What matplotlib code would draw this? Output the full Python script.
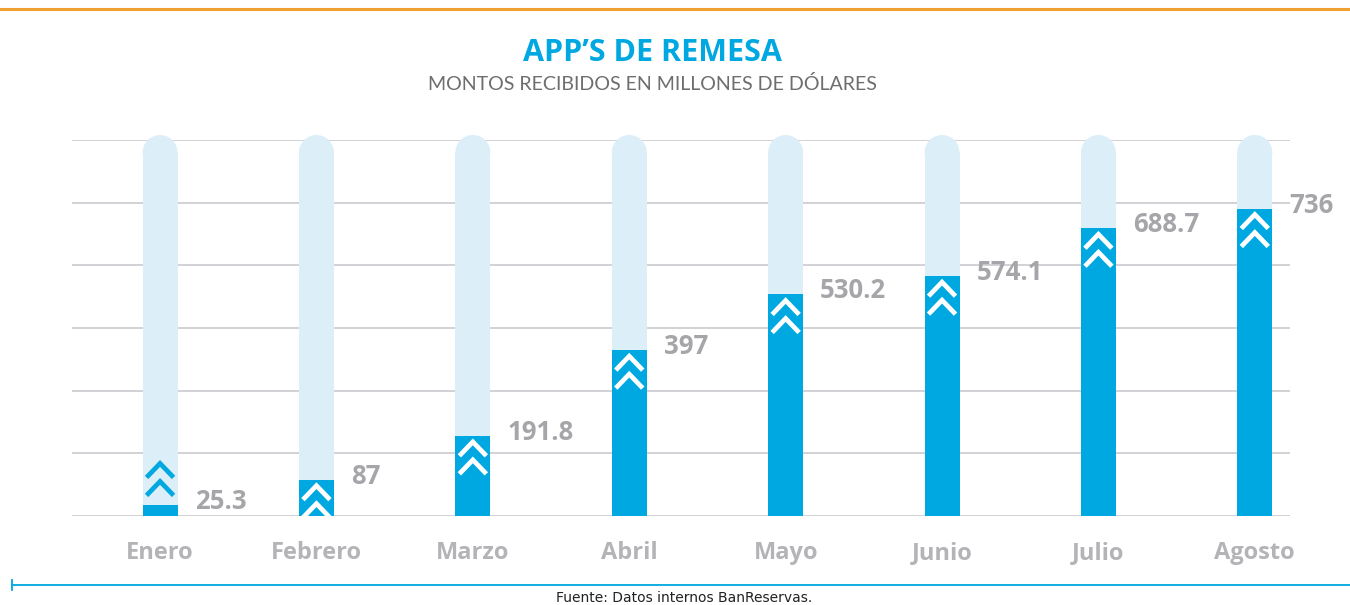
import matplotlib
matplotlib.use("Agg")
import matplotlib.pyplot as plt
from matplotlib.patches import Rectangle, Ellipse
from matplotlib.lines import Line2D

# Data
months = ["Enero", "Febrero", "Marzo", "Abril", "Mayo", "Junio", "Julio", "Agosto"]
amounts = [25.3, 87, 191.8, 397, 530.2, 574.1, 688.7, 736]
value_labels = ["25.3", "87", "191.8", "397", "530.2", "574.1", "688.7", "736"]
grid_values = [0, 150, 300, 450, 600, 750, 900]

title = "APP\u2019S DE REMESA"
subtitle = "MONTOS RECIBIDOS EN MILLONES DE DÓLARES"
source = "Fuente: Datos internos BanReservas."

# Colours
BLUE = "#00A8E1"
LIGHT = "#DCEEF8"
GRAY = "#A6A6AA"
GRID = "#CBCBCF"
ORANGE = "#F0A030"

W, H = 1350, 605
fig = plt.figure(figsize=(W / 100, H / 100), dpi=100)
fig.patch.set_facecolor("white")

# Plot area: x from 72 px to 1290 px, baseline at 516 px, 900 at 140 px
x0_px, x1_px = 72, 1290
y0_px, ytop_px = 516, 140
ymax = 900
ax = fig.add_axes([x0_px / W, (H - y0_px) / H, (x1_px - x0_px) / W, (y0_px - ytop_px) / H])
ax.set_xlim(-0.563, 7.225)
ax.set_ylim(0, ymax)
ax.axis("off")

px_per_unit = (y0_px - ytop_px) / ymax
px_per_x = (x1_px - x0_px) / (7.225 + 0.563)

def uy(px):
    return px / px_per_unit

def ux(px):
    return px / px_per_x

bar_w = ux(35)
bg_top = uy(516 - 135)  # top of the rounded track
cap_h = uy(35)

# Gridlines
for g in grid_values:
    ax.axhline(g, color=GRID, lw=1.2, zorder=0)

for i, (m, v, lab) in enumerate(zip(months, amounts, value_labels)):
    # Background track with rounded top
    ax.add_patch(Rectangle((i - bar_w / 2, 0), bar_w, bg_top - cap_h / 2,
                           facecolor=LIGHT, edgecolor="none", zorder=1, clip_on=False))
    ax.add_patch(Ellipse((i, bg_top - cap_h / 2), bar_w, cap_h,
                         facecolor=LIGHT, edgecolor="none", zorder=1, clip_on=False))
    # Value bar
    ax.bar(i, v, width=bar_w, color=BLUE, zorder=2)

    # Double chevron marks
    if v < 50:
        apex = v + uy(42)
        ccol = BLUE
    else:
        apex = v - uy(6)
        ccol = "white"
    hw = ux(13.5)
    ch = uy(14)
    for k in range(2):
        a = apex - k * uy(18)
        ax.add_line(Line2D([i - hw, i, i + hw], [a - ch, a, a - ch], color=ccol,
                           lw=3.4, solid_joinstyle="miter", solid_capstyle="butt", zorder=3))

    # Value label
    ax.text(i + bar_w / 2 + ux(17), v - uy(4), lab, ha="left", va="baseline",
            fontsize=18.5, fontweight="bold", color=GRAY, family="Open Sans", zorder=4,
            clip_on=False)

    # Month label
    ax.text(i, -uy(43), m, ha="center", va="baseline", fontsize=17,
            fontweight="bold", color="#B4B4B8", family="Open Sans", clip_on=False)

# Header
fig.add_artist(Line2D([0, 1], [(H - 8.5) / H] * 2, color=ORANGE, lw=2.2))
fig.text(652 / W, (H - 61) / H, title, ha="center", va="baseline", fontsize=22,
         fontweight="bold", color=BLUE, family="Open Sans")
fig.text(652 / W, (H - 90) / H, subtitle, ha="center", va="baseline", fontsize=14.1,
         color="#6E6E70", family="Lato")

# Footer
fig.add_artist(Line2D([12 / W, 1], [(H - 585) / H] * 2, color=BLUE, lw=1.3))
fig.add_artist(Line2D([12 / W, 12 / W], [(H - 580) / H, (H - 590) / H], color=BLUE, lw=1.3))
fig.text(684 / W, (H - 602) / H, source, ha="center", va="baseline", fontsize=10,
         color="#222222", family="DejaVu Sans")

fig.savefig("out.png", dpi=100, facecolor="white")
